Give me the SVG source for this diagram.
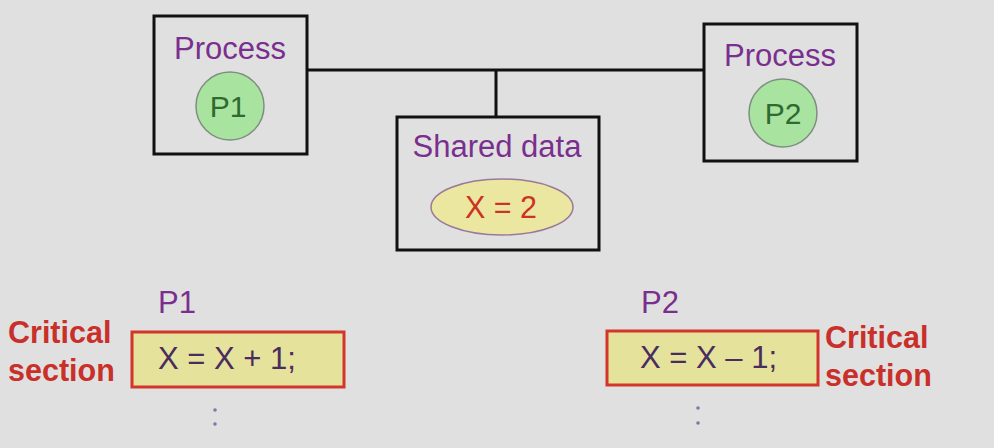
<svg xmlns="http://www.w3.org/2000/svg" width="994" height="448" viewBox="0 0 994 448">
<style>
.box{fill:none;stroke:#111;stroke-width:3}
.lbl{font-family:"Liberation Sans",Arial,sans-serif;fill:#7a2f8e;font-size:31px;text-anchor:middle}
.pc{fill:#a8e3a0;stroke:#7f8f7f;stroke-width:1.5}
.pt{font-family:"Liberation Sans",Arial,sans-serif;fill:#2f6a2f;font-size:30px;text-anchor:middle}
.cs{fill:#e5e29c;stroke:#d2352b;stroke-width:3}
.code{font-family:"Liberation Sans",Arial,sans-serif;fill:#4a2d5e;font-size:31px}
.crit{font-family:"Liberation Sans",Arial,sans-serif;fill:#c9302a;font-size:30.5px;font-weight:bold}
.dot{fill:#8a70a8}
.conn{stroke:#111;stroke-width:3;fill:none}
</style>
<rect width="994" height="448" fill="#e0e0e0"/>
<g id="connectors">
<path class="conn" d="M307 70 H704 M496 70 V117"/>
</g>
<g id="process1">
<rect class="box" x="154" y="16" width="153" height="138"/>
<text class="lbl" x="230" y="59">Process</text>
<circle class="pc" cx="230" cy="106" r="34"/>
<text class="pt" x="228" y="117">P1</text>
</g>
<g id="process2">
<rect class="box" x="704" y="24" width="153" height="137"/>
<text class="lbl" x="780" y="66">Process</text>
<circle class="pc" cx="783" cy="113" r="34"/>
<text class="pt" x="783" y="124">P2</text>
</g>
<g id="shared">
<rect class="box" x="397" y="117" width="202" height="133"/>
<text class="lbl" x="497" y="157">Shared data</text>
<ellipse cx="502" cy="207" rx="71" ry="28" fill="#ebe6a0" stroke="#9a7a9a" stroke-width="1.5"/>
<text x="501" y="218" font-family="Liberation Sans,Arial,sans-serif" font-size="30.5" fill="#cc3322" text-anchor="middle">X = 2</text>
</g>
<g id="p1code">
<text class="lbl" x="177" y="313">P1</text>
<text class="crit" x="8" y="343">Critical</text>
<text class="crit" x="8" y="381">section</text>
<rect class="cs" x="132" y="332" width="212" height="55"/>
<text class="code" x="158" y="369">X = X + 1;</text>
<circle class="dot" cx="215" cy="410" r="1.8"/>
<circle class="dot" cx="215" cy="424" r="1.8"/>
</g>
<g id="p2code">
<text class="lbl" x="660" y="313">P2</text>
<rect class="cs" x="607" y="331" width="211" height="54"/>
<text class="code" x="640" y="368">X = X – 1;</text>
<text class="crit" x="825" y="348">Critical</text>
<text class="crit" x="825" y="386">section</text>
<circle class="dot" cx="698" cy="408" r="1.8"/>
<circle class="dot" cx="698" cy="423" r="1.8"/>
</g>
</svg>
